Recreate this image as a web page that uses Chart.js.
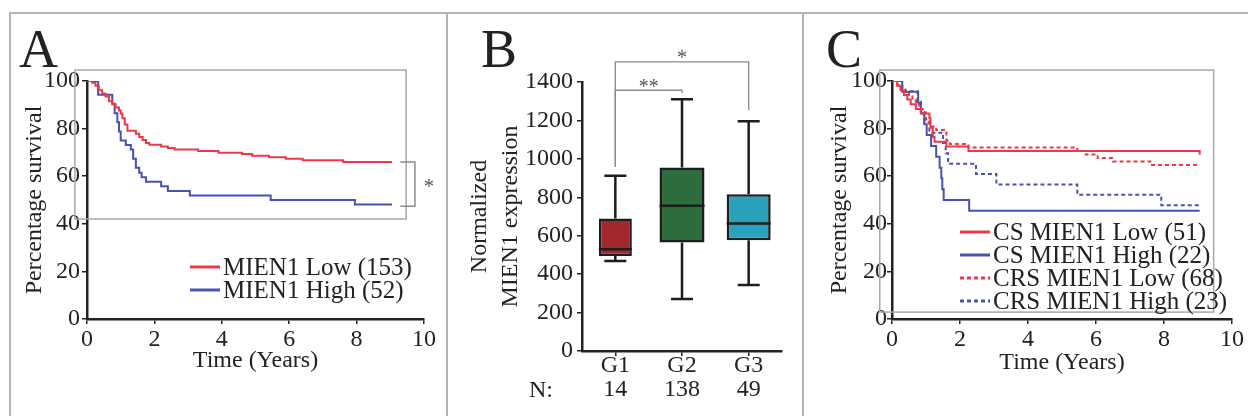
<!DOCTYPE html>
<html>
<head>
<meta charset="utf-8">
<title>MIEN1 survival and expression</title>
<script src="https://cdn.jsdelivr.net/npm/chart.js@4.4.1/dist/chart.umd.min.js"></script>
<style>
  html, body { margin: 0; padding: 0; background: #fff; }
  body { position: relative; width: 1248px; height: 416px; overflow: hidden;
         font-family: 'Liberation Serif', 'DejaVu Serif', serif; color: #222; }
  .rule { position: absolute; background: #b3b3b3; }
  canvas { position: absolute; top: 0; }
  .letter { position: absolute; font-size: 54px; line-height: 54px; }
  .legend { position: absolute; font-size: 25px; }
  .legend .row { height: 23px; line-height: 23px; white-space: nowrap; display: flex; align-items: center; }
  .legend svg { margin-right: 3px; flex: none; }
  .nlabel { position: absolute; font-size: 24px; line-height: 24px; }
</style>
</head>
<body>
<div class="rule" style="left:10px;top:12px;width:1238px;height:2px"></div>
<div class="rule" style="left:9px;top:12px;width:2px;height:404px"></div>
<div class="rule" style="left:446px;top:12px;width:2px;height:404px"></div>
<div class="rule" style="left:802px;top:12px;width:2px;height:404px"></div>

<canvas id="chartA" width="446" height="416" style="left:0"></canvas>
<canvas id="chartB" width="356" height="416" style="left:448px"></canvas>
<canvas id="chartC" width="444" height="416" style="left:804px"></canvas>

<div class="letter" style="left:19px;top:22px">A</div>
<div class="letter" style="left:481px;top:22px">B</div>
<div class="letter" style="left:826px;top:22px">C</div>
<div class="nlabel" style="left:529px;top:377px">N:</div>

<div class="legend" id="legendA" style="left:190px;top:255px"></div>
<div class="legend" id="legendC" style="left:960px;top:220px"></div>

<script>
// ---- Panel A: overall survival by MIEN1 level ----
const lowTimesA  = [0, 0.15, 0.25, 0.35, 0.45, 0.55, 0.65, 0.75, 0.85, 0.95, 1.0, 1.05, 1.12, 1.2, 1.45, 1.55, 1.65, 1.75, 1.85, 2.2, 2.4, 2.6, 3.3, 3.9, 4.6, 4.9, 5.4, 5.9, 6.4, 7.6, 9.05];
const lowSurvA   = [100, 99.3, 98, 96.1, 94.8, 93.5, 91.5, 90.2, 88.9, 87.6, 86.3, 84.3, 81.7, 79.1, 77.8, 76.5, 75.2, 73.9, 73.2, 72.5, 71.9, 71.2, 70.6, 69.9, 69.3, 68.6, 68, 67.3, 66.7, 66, 66];
const highTimesA = [0, 0.33, 0.75, 0.82, 0.9, 0.95, 1.0, 1.15, 1.3, 1.37, 1.45, 1.55, 1.62, 1.75, 2.2, 2.4, 3.05, 5.45, 7.95, 9.05];
const highSurvA  = [100, 94.2, 90.4, 86.5, 82.7, 78.8, 75, 73.1, 71.2, 67.3, 63.5, 61.5, 59.6, 57.7, 55.8, 53.8, 51.9, 50, 48.1, 48.1];
const labelsA = ['MIEN1 Low (153)', 'MIEN1 High (52)'];

// ---- Panel B: expression by grade ----
const groups      = ['G1', 'G2', 'G3'];
const groupN      = ['14', '138', '49'];
const whiskerLow  = [468, 270, 343];
const q1          = [494, 565, 577];
const median      = [529, 756, 664];
const q3          = [690, 955, 816];
const whiskerHigh = [912, 1310, 1196];
const sigPairs    = [[0, 1], [0, 2]];
const sigLevel    = [1357, 1505];
const sigLeftEnd  = [959, 959];
const sigRightEnd = [1343, 1253];
const sigMarks    = ['**', '*'];

// ---- Panel C: survival split by treatment ----
const csLowTimes   = [0, 0.15, 0.25, 0.35, 0.45, 0.55, 0.7, 0.85, 1.1, 1.13, 1.2, 1.25, 1.6, 2.25, 9.05];
const csLowSurv    = [100, 98, 96.1, 94.1, 92.2, 90.2, 88.2, 86.3, 84.3, 80.4, 76.5, 74.5, 72.5, 70.6, 69];
const csHighTimes  = [0, 0.3, 0.77, 0.85, 0.95, 1.02, 1.15, 1.3, 1.4, 1.45, 1.48, 1.52, 2.27, 9.05];
const csHighSurv   = [100, 95.5, 90.9, 86.4, 81.8, 77.3, 72.7, 68.2, 63.6, 59.1, 54.5, 50, 45.5, 45.5];
const crsLowTimes  = [0, 0.15, 0.3, 0.4, 0.5, 0.6, 0.7, 0.8, 0.9, 1.0, 1.1, 1.3, 1.6, 1.7, 2.25, 5.45, 5.7, 6.05, 6.5, 7.6, 9.05];
const crsLowSurv   = [100, 98.5, 97.1, 95.6, 94.1, 92.6, 91.2, 88.2, 86.8, 83.8, 80.9, 79.4, 75, 73.5, 72.1, 70.6, 69.1, 67.6, 66.2, 64.7, 64.7];
const crsHighTimes = [0, 0.3, 0.75, 0.85, 0.95, 1.1, 1.5, 1.58, 1.65, 2.47, 3.07, 5.45, 7.92, 9.05];
const crsHighSurv  = [100, 95.7, 91.3, 87, 82.6, 78.3, 73.9, 69.6, 65.2, 60.9, 56.5, 52.2, 47.8, 47.8];
const labelsC = ['CS MIEN1 Low (51)', 'CS MIEN1 High (22)', 'CRS MIEN1 Low (68)', 'CRS MIEN1 High (23)'];

const RED = '#ec3848';
const BLUE = '#4752b3';
const INK = '#222';
const SERIF = "'Liberation Serif', 'DejaVu Serif', serif";
const boxColors = ['#a2292b', '#2f6c3d', '#2aa2bc'];
const boxWidthPx = [33, 45, 44];

Chart.defaults.font.family = SERIF;
Chart.defaults.color = INK;

const toPoints = (t, s) => t.map((x, i) => ({ x: x, y: s[i] }));

// gray rectangle drawn in data units (inset frame seen in the figure)
const insetBoxPlugin = {
    id: 'insetBox',
    beforeDatasetsDraw(chart, args, opts) {
        if (opts.x0 === undefined) return;
        const { ctx, scales: { x, y } } = chart;
        const left = x.getPixelForValue(opts.x0), right = x.getPixelForValue(opts.x1);
        const top = y.getPixelForValue(opts.y1), bottom = y.getPixelForValue(opts.y0);
        ctx.save();
        ctx.strokeStyle = '#a8a8a8';
        ctx.lineWidth = 1.5;
        ctx.strokeRect(left, top, right - left, bottom - top);
        ctx.restore();
    }
};

// significance bracket on the right of panel A
const endBracketPlugin = {
    id: 'endBracket',
    afterDraw(chart, args, opts) {
        if (opts.yTop === undefined) return;
        const { ctx, scales: { x, y } } = chart;
        const xs = x.getPixelForValue(opts.xStart), xv = x.getPixelForValue(opts.xLine);
        const yt = y.getPixelForValue(opts.yTop), yb = y.getPixelForValue(opts.yBottom);
        ctx.save();
        ctx.strokeStyle = '#8a8a8a';
        ctx.lineWidth = 1.5;
        ctx.beginPath();
        ctx.moveTo(xs, yt); ctx.lineTo(xv, yt); ctx.lineTo(xv, yb); ctx.lineTo(xs, yb);
        ctx.stroke();
        ctx.fillStyle = '#555';
        ctx.font = '20px ' + SERIF;
        ctx.textAlign = 'center';
        ctx.textBaseline = 'middle';
        ctx.fillText(opts.label, x.getPixelForValue(opts.xLabel), (yt + yb) / 2 + 4);
        ctx.restore();
    }
};

function survivalOptions(cfg) {
    return {
        responsive: false,
        animation: false,
        layout: { padding: { left: 0, top: 81, right: cfg.padRight, bottom: 0 } },
        elements: { point: { radius: 0 }, line: { tension: 0, borderWidth: 2 } },
        scales: {
            x: {
                type: 'linear', min: 0, max: 10,
                ticks: { stepSize: 2, font: { size: 24 }, padding: 1, color: INK },
                grid: { drawOnChartArea: false, tickLength: 5, color: INK, lineWidth: 1.5 },
                border: { color: INK, width: 2.5 },
                title: { display: true, text: 'Time (Years)', font: { size: 24 }, padding: { top: 0, bottom: cfg.xTitlePad }, color: INK },
                afterFit: s => { s.height = 97; }
            },
            y: {
                min: 0, max: 100,
                ticks: { stepSize: 20, font: { size: 24 }, padding: cfg.tickPad, color: INK },
                grid: { drawOnChartArea: false, tickLength: 5, color: INK, lineWidth: 1.5 },
                border: { color: INK, width: 2.5 },
                title: { display: true, text: 'Percentage survival', font: { size: 24 }, padding: { top: cfg.yTitlePad, bottom: 0 }, color: INK },
                afterFit: s => { s.width = cfg.yWidth; }
            }
        },
        plugins: {
            legend: { display: false },
            tooltip: { enabled: false },
            insetBox: cfg.box,
            endBracket: cfg.bracket || {}
        }
    };
}

function buildLegend(el, chart) {
    chart.data.datasets.forEach(ds => {
        const row = document.createElement('div');
        row.className = 'row';
        const dash = ds.borderDash ? ds.borderDash.join(' ') : 'none';
        row.innerHTML = `<svg width="30" height="8"><line x1="0" y1="4" x2="30" y2="4" stroke="${ds.borderColor}" stroke-width="3" stroke-dasharray="${dash}"/></svg><span>${ds.label}</span>`;
        el.appendChild(row);
    });
}

// ---- Panel A ----
const chartA = new Chart(document.getElementById('chartA'), {
    type: 'line',
    data: {
        datasets: [
            { label: labelsA[0], data: toPoints(lowTimesA, lowSurvA), borderColor: RED, stepped: true },
            { label: labelsA[1], data: toPoints(highTimesA, highSurvA), borderColor: BLUE, stepped: true }
        ]
    },
    options: survivalOptions({
        yWidth: 87, padRight: 22, tickPad: 2, yTitlePad: 20, xTitlePad: 41,
        box: { x0: -0.36, x1: 9.47, y0: 42, y1: 104.6 },
        bracket: { xStart: 9.3, xLine: 9.73, xLabel: 10.15, yTop: 66, yBottom: 47.4, label: '*' }
    }),
    plugins: [insetBoxPlugin, endBracketPlugin]
});
buildLegend(document.getElementById('legendA'), chartA);

// ---- Panel B ----
const boxWhiskerPlugin = {
    id: 'boxWhisker',
    afterDatasetsDraw(chart) {
        const { ctx, scales: { x, y } } = chart;
        const cap = 11;
        ctx.save();
        ctx.strokeStyle = '#1d1d1d';
        ctx.lineWidth = 2.5;
        ctx.beginPath();
        groups.forEach((g, i) => {
            const cx = x.getPixelForValue(i);
            const yHi = y.getPixelForValue(whiskerHigh[i]);
            const yLo = y.getPixelForValue(whiskerLow[i]);
            ctx.moveTo(cx, y.getPixelForValue(q3[i])); ctx.lineTo(cx, yHi);
            ctx.moveTo(cx - cap, yHi); ctx.lineTo(cx + cap, yHi);
            ctx.moveTo(cx, y.getPixelForValue(q1[i])); ctx.lineTo(cx, yLo);
            ctx.moveTo(cx - cap, yLo); ctx.lineTo(cx + cap, yLo);
            const bar = chart.getDatasetMeta(i).data[i];
            const ym = y.getPixelForValue(median[i]);
            ctx.moveTo(bar.x - bar.width / 2, ym); ctx.lineTo(bar.x + bar.width / 2, ym);
        });
        ctx.stroke();

        // significance brackets
        ctx.strokeStyle = '#8a8a8a';
        ctx.lineWidth = 1.3;
        ctx.fillStyle = '#555';
        ctx.font = '20px ' + SERIF;
        ctx.textAlign = 'center';
        ctx.textBaseline = 'middle';
        sigPairs.forEach((p, k) => {
            const x1 = x.getPixelForValue(p[0]), x2 = x.getPixelForValue(p[1]);
            const yl = y.getPixelForValue(sigLevel[k]);
            ctx.beginPath();
            ctx.moveTo(x1, y.getPixelForValue(sigLeftEnd[k]));
            ctx.lineTo(x1, yl);
            ctx.lineTo(x2, yl);
            ctx.lineTo(x2, y.getPixelForValue(sigRightEnd[k]));
            ctx.stroke();
            ctx.fillText(sigMarks[k], (x1 + x2) / 2, yl - 3);
        });
        ctx.restore();
    }
};

new Chart(document.getElementById('chartB'), {
    type: 'bar',
    data: {
        labels: groups.map((g, i) => [g, groupN[i]]),
        datasets: groups.map((g, i) => ({
            label: g,
            data: groups.map((_, j) => j === i ? [q1[i], q3[i]] : null),
            backgroundColor: boxColors[i],
            borderColor: '#1d1d1d',
            borderWidth: 2.5,
            borderSkipped: false,
            maxBarThickness: boxWidthPx[i],
            grouped: false
        }))
    },
    options: {
        responsive: false,
        animation: false,
        layout: { padding: { left: 0, top: 82, right: 22, bottom: 0 } },
        scales: {
            x: {
                ticks: { font: { size: 24, lineHeight: 1.0 }, padding: -2, color: INK },
                grid: { drawOnChartArea: false, offset: false, tickLength: 5, color: INK, lineWidth: 1.5 },
                border: { color: INK, width: 2.5 },
                afterFit: s => { s.height = 65; }
            },
            y: {
                min: 0, max: 1400,
                ticks: { stepSize: 100, font: { size: 24 }, padding: 4, color: INK,
                         callback: v => (v % 200 === 0 ? v : '') },
                grid: { drawOnChartArea: false, tickLength: 5, color: INK, lineWidth: 1.5 },
                border: { color: INK, width: 2.5 },
                title: { display: true, text: ['Normalized', 'MIEN1 expression'],
                         font: { size: 24, lineHeight: 1.3 }, padding: { top: 16, bottom: 0 }, color: INK },
                afterFit: s => { s.width = 134; }
            }
        },
        plugins: { legend: { display: false }, tooltip: { enabled: false } }
    },
    plugins: [boxWhiskerPlugin]
});

// ---- Panel C ----
const chartC = new Chart(document.getElementById('chartC'), {
    type: 'line',
    data: {
        datasets: [
            { label: labelsC[0], data: toPoints(csLowTimes, csLowSurv), borderColor: RED, stepped: true },
            { label: labelsC[1], data: toPoints(csHighTimes, csHighSurv), borderColor: BLUE, stepped: true },
            { label: labelsC[2], data: toPoints(crsLowTimes, crsLowSurv), borderColor: RED, borderDash: [4, 3], stepped: true },
            { label: labelsC[3], data: toPoints(crsHighTimes, crsHighSurv), borderColor: BLUE, borderDash: [4, 3], stepped: true }
        ]
    },
    options: survivalOptions({
        yWidth: 88, padRight: 16, tickPad: 0, yTitlePad: 21, xTitlePad: 39,
        box: { x0: -0.36, x1: 9.46, y0: 2.9, y1: 104.6 }
    }),
    plugins: [insetBoxPlugin, endBracketPlugin]
});
buildLegend(document.getElementById('legendC'), chartC);
</script>
</body>
</html>
